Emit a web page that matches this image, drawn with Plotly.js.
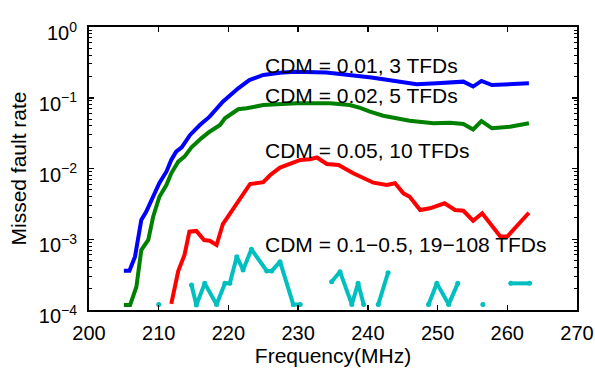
<!DOCTYPE html>
<html>
<head>
<meta charset="utf-8">
<script src="https://cdn.plot.ly/plotly-3.0.1.min.js"></script>
<style>html,body{margin:0;padding:0;background:#fff;}#chart{width:595px;height:370px;}</style>
</head>
<body>
<div id="chart"></div>
<script>
// Frequency (MHz) and missed fault rate
const blueX = [205.0,205.8,206.6,207.5,208.2,209.2,210.1,211.1,211.8,212.5,213.3,214.5,215.9,217.3,219.2,221.4,223.0,225.0,227.4,229.5,231.7,234.0,236.0,238.9,240.5,242.2,244.5,247.0,249.9,251.8,253.7,255.1,256.3,257.8,260.4,263.1];
const blueY = [3.6e-4,3.6e-4,5.67e-4,1.87e-3,2.45e-3,3.99e-3,6.24e-3,9.01e-3,1.32e-2,1.73e-2,1.99e-2,2.98e-2,4.12e-2,5.40e-2,8.79e-2,0.136,0.178,0.210,0.226,0.233,0.233,0.227,0.217,0.203,0.193,0.182,0.167,0.155,0.160,0.164,0.169,0.144,0.173,0.151,0.156,0.160];

const greenX = [205.0,205.9,206.8,207.5,208.5,209.2,210.1,211.1,211.8,212.8,213.7,214.7,216.1,217.3,218.8,219.5,221.4,222.6,225.0,229.8,234.6,237.4,238.9,240.3,242.2,244.0,246.0,249.4,251.8,253.7,255.1,256.3,257.8,260.4,263.1];
const greenY = [1.18e-4,1.18e-4,2.13e-4,7.05e-4,9.76e-4,2.08e-3,3.99e-3,5.84e-3,8.56e-3,1.25e-2,1.47e-2,1.99e-2,2.67e-2,3.31e-2,4.12e-2,5.12e-2,6.87e-2,7.09e-2,7.90e-2,8.35e-2,8.35e-2,7.90e-2,7.2e-2,6.35e-2,5.58e-2,5.17e-2,4.74e-2,4.35e-2,4.44e-2,4.26e-2,3.56e-2,4.69e-2,3.70e-2,3.90e-2,4.35e-2];

const redX = [211.8,212.8,213.7,214.4,215.4,216.5,217.3,218.3,219.2,220.4,221.3,223.1,225.0,226.0,227.4,229.3,230.3,231.7,232.7,234.1,235.8,237.9,240.8,242.7,243.9,245.1,246.0,247.5,248.9,251.0,252.5,253.7,255.1,256.4,259.0,260.0,263.1];
const redY = [1.22e-4,3.56e-4,5.99e-4,1.28e-3,1.31e-3,9.76e-4,9.54e-4,8.29e-4,1.64e-3,2.45e-3,3.31e-3,6.04e-3,6.40e-3,8.09e-3,1.03e-2,1.20e-2,1.32e-2,1.35e-2,1.43e-2,1.16e-2,1.12e-2,8.56e-3,6.30e-3,5.84e-3,6.18e-3,4.46e-3,3.99e-3,2.59e-3,2.74e-3,3.22e-3,2.59e-3,2.53e-3,1.83e-3,2.33e-3,1.09e-3,1.09e-3,2.37e-3];

// null = zero rate (not drawable on a log axis)
const cyanX = [210.0,211.0,214.7,215.4,216.6,218.3,219.5,220.2,221.2,222.1,223.3,225.5,226.2,227.4,229.3,230.3,232.0,234.8,236.0,237.7,238.6,239.4,240.5,241.5,242.9,245.0,248.7,249.9,251.6,252.9,254.5,256.5,258.0,260.5,263.2];
const cyanY = [1.2e-4,null,2.26e-4,1.18e-4,2.38e-4,1.2e-4,2.38e-4,2.38e-4,5.67e-4,3.68e-4,7.21e-4,3.56e-4,3.56e-4,4.82e-4,1.2e-4,1.2e-4,null,2.51e-4,3.48e-4,1.2e-4,2.38e-4,1.2e-4,null,1.2e-4,3.37e-4,null,1.2e-4,2.38e-4,1.2e-4,2.38e-4,null,1.2e-4,null,2.38e-4,2.38e-4];

const xTicks = [200,210,220,230,240,250,260,270];
const yTickVals = [1e-4,1e-3,1e-2,1e-1,1];
const yTickText = ['10<sup>−4</sup>','10<sup>−3</sup>','10<sup>−2</sup>','10<sup>−1</sup>','10<sup>0</sup>'];

const labels = ['CDM = 0.01, 3 TFDs','CDM = 0.02, 5 TFDs','CDM = 0.05, 10 TFDs','CDM = 0.1−0.5, 19−108 TFDs'];
const labelX = [225,225,225,225];
const labelY = [-0.55,-0.97,-1.745,-3.074]; // log10 positions

const font = {family:'"Liberation Sans", Arial, sans-serif', color:'#000'};

const traces = [
  {x:blueX, y:blueY, mode:'lines', line:{color:'#0000ff', width:4}},
  {x:greenX, y:greenY, mode:'lines', line:{color:'#008000', width:4}},
  {x:redX, y:redY, mode:'lines', line:{color:'#ff0000', width:4}},
  {x:cyanX, y:cyanY, mode:'lines+markers', connectgaps:false, line:{color:'#00bfbf', width:4}, marker:{color:'#00bfbf', size:5}}
];

const layout = {
  width:595, height:370,
  margin:{l:89, r:18, t:27, b:60},
  paper_bgcolor:'#fff', plot_bgcolor:'#fff',
  showlegend:false,
  font:Object.assign({size:20}, font),
  xaxis:{
    range:[200,270], tickvals:xTicks, ticktext:xTicks.map(String),
    ticks:'inside', ticklen:5, tickwidth:1.5, tickcolor:'#000',
    showline:true, linecolor:'#000', linewidth:2, mirror:'ticks',
    showgrid:false, zeroline:false, ticklabelstandoff:4,
    tickfont:Object.assign({size:20}, font),
    title:{text:'Frequency(MHz)', font:Object.assign({size:21}, font), standoff:4}
  },
  yaxis:{
    type:'log', range:[-4,0], tickvals:yTickVals, ticktext:yTickText,
    ticks:'inside', ticklen:5, tickwidth:1.5, tickcolor:'#000',
    minor:{ticks:'inside', ticklen:3, tickcolor:'#000', tickwidth:1, dtick:'D1', showgrid:false},
    showline:true, linecolor:'#000', linewidth:2, mirror:'ticks',
    showgrid:false, zeroline:false, ticklabelstandoff:6, ticklabelshift:6,
    tickfont:Object.assign({size:20}, font),
    title:{text:'Missed fault rate', font:Object.assign({size:21}, font), standoff:6}
  },
  annotations: labels.map((t,i)=>({
    text:t, x:labelX[i], y:labelY[i], xref:'x', yref:'y',
    xanchor:'left', yanchor:'middle', showarrow:false,
    font:Object.assign({size:21}, font)
  }))
};

Plotly.newPlot('chart', traces, layout, {displayModeBar:false, staticPlot:true});
</script>
</body>
</html>
